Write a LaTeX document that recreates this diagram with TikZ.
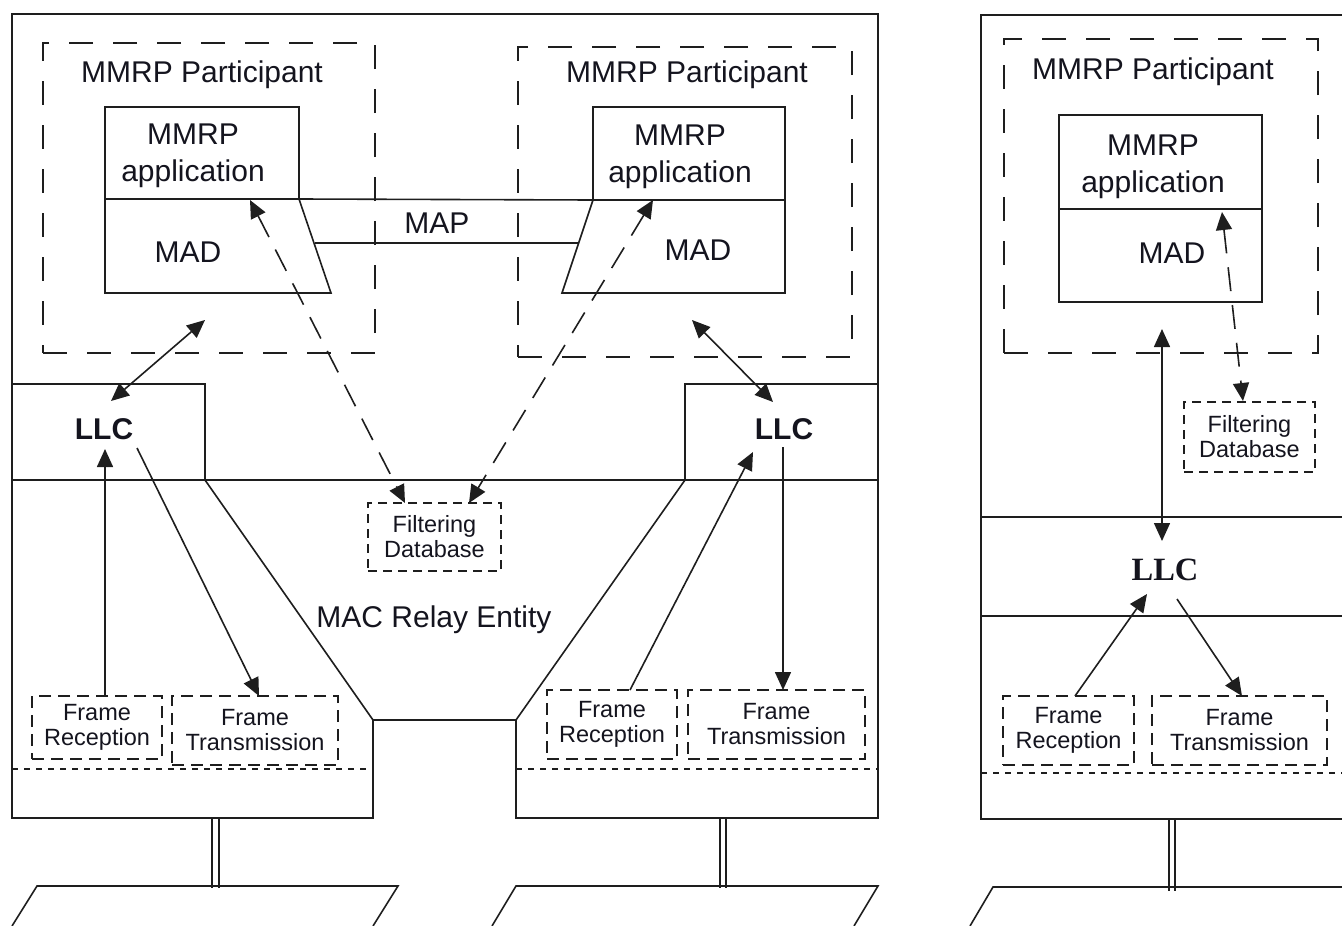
\documentclass[tikz,border=0pt]{standalone}
\usepackage{fontspec}
\setmainfont{Liberation Sans}
\newfontfamily\serifbold{Liberation Serif}
\usetikzlibrary{arrows.meta,calc}
\definecolor{ln}{RGB}{30,30,30}
\definecolor{tx}{RGB}{20,20,30}
\tikzset{
  lbl/.style={font=\fontsize{30}{37}\selectfont, text=tx, inner sep=0pt, align=center},
  llcl/.style={font=\fontsize{30}{36}\selectfont\bfseries, text=tx, inner sep=0pt},
  llcs/.style={font=\serifbold\fontsize{32.5}{36}\selectfont\bfseries, text=tx, inner sep=0pt},
  sm/.style={font=\fontsize{23.5}{25}\selectfont, text=tx, inner sep=0pt, align=center},
  part/.style={draw=ln, dash pattern=on 24pt off 20pt, inner sep=0pt, outer sep=0pt, anchor=north west},
  appbox/.style={draw=ln, inner sep=0pt, outer sep=0pt, anchor=north west},
  fbox/.style={draw=ln, sm, dash pattern=on 12pt off 7pt, outer sep=0pt},
  dbbox/.style={draw=ln, sm, dash pattern=on 9pt off 6pt, outer sep=0pt},
  tip/.tip={Triangle[length=18pt,width=16pt]},
  arr/.style={-tip},
  darr/.style={tip-tip},
  dasharr/.style={tip-tip, dash pattern=on 24pt off 14pt},
  dotl/.style={dash pattern=on 6pt off 6pt, line width=1.8pt},
}
\begin{document}
\begin{tikzpicture}[x=1pt,y=-1pt,line width=1.6pt,color=ln]
\useasboundingbox (0,0) rectangle (1342,926);

% ---------------- left bridge ----------------
\draw (12,14)--(878,14)--(878,818)--(516,818)--(516,720)--(373,720)--(373,818)--(12,818)--cycle;
\draw (12,480)--(878,480);
\draw (12,384)--(205,384)--(205,480)--(373,720);
\draw (878,384)--(685,384)--(685,480)--(516,720);
\draw[dotl] (12,769)--(373,769);
\draw[dotl] (516,769)--(878,769);
% cables and LANs
\draw (212,818)--(212,888);
\draw (219,818)--(219,888);
\draw (12,926)--(37,886)--(398,886)--(373,926);
\draw (720,818)--(720,888);
\draw (726,818)--(726,888);
\draw (492,926)--(516,886)--(878,886)--(854,926);

% participants
\node[part, minimum width=332pt, minimum height=310pt] (partL) at (43,43) {};
\node[part, minimum width=334pt, minimum height=310pt] (partR) at (518,47) {};
\node[lbl, anchor=base] (ppL) at (202,82) {MMRP Participant};
\node[lbl, anchor=base] (ppR) at (687,82) {MMRP Participant};

\node[appbox, minimum width=194pt, minimum height=92pt] (appL) at (105,107) {};
\node[appbox, minimum width=192pt, minimum height=93pt] (appR) at (593,107) {};
\draw (appL.south east)--(331,293)--(105,293)--(appL.south west);
\draw (appR.south west)--(562,293)--(785,293)--(appR.south east);
\node[lbl] (apL) at (193,156) {MMRP\\application};
\node[lbl] (apR) at (680,157) {MMRP\\application};
\node[lbl, anchor=base] (madL) at (188,262) {MAD};
\node[lbl, anchor=base] (madR) at (698,260) {MAD};

% MAP
\coordinate (mapA) at (315,243);
\coordinate (mapB) at (579,243);
\draw (appL.south east)--(appR.south west);
\draw (mapA)--(mapB);
\node[lbl, anchor=base] (map) at (437,233) {MAP};

% filtering database
\node[dbbox, minimum width=133pt, minimum height=68pt] (fdb) at (434.5,537) {Filtering\\Database};
\coordinate (dL1) at (250,200);
\coordinate (dL2) at (405,503);
\coordinate (dR1) at (653,200);
\coordinate (dR2) at (469,503);
\draw[dasharr] (dL1)--(dL2);
\draw[dasharr] (dR1)--(dR2);

\node[lbl, anchor=base] (relay) at (434,627) {MAC Relay Entity};

% LLC
\node[llcl, anchor=base] (llcL) at (104,439) {LLC};
\node[llcl, anchor=base] (llcR) at (784,439) {LLC};

% frames
\node[fbox, minimum width=130pt, minimum height=63pt] (frL) at (97,727.5) {Frame\\Reception};
\node[fbox, minimum width=166pt, minimum height=69pt] (ftL) at (255,730.5) {Frame\\Transmission};
\node[fbox, minimum width=130pt, minimum height=69pt] (frR) at (612,724.5) {Frame\\Reception};
\node[fbox, minimum width=177pt, minimum height=69pt] (ftR) at (776.5,724.5) {Frame\\Transmission};

% arrows left
\coordinate (aL1) at (205,320);
\coordinate (aL2) at (111,401);
\draw[darr] (aL1)--(aL2);
\coordinate (uL1) at (105,696);
\coordinate (uL2) at (105,449);
\draw[arr] (uL1)--(uL2);
\coordinate (tL1) at (137,448);
\coordinate (tL2) at (259,696);
\draw[arr] (tL1)--(tL2);
% arrows right
\coordinate (aR1) at (692,320);
\coordinate (aR2) at (773,402);
\draw[darr] (aR1)--(aR2);
\coordinate (uR1) at (630,690);
\coordinate (uR2) at (753,452);
\draw[arr] (uR1)--(uR2);
\coordinate (tR1) at (783,447);
\coordinate (tR2) at (783,690);
\draw[arr] (tR1)--(tR2);

% ---------------- right end station ----------------
\draw (1342,15)--(981,15)--(981,819)--(1342,819);
\draw (981,517)--(1342,517);
\draw (981,616)--(1342,616);
\draw[dotl] (981,773)--(1342,773);
\draw (1169,819)--(1169,891);
\draw (1175,819)--(1175,891);
\draw (970,926)--(993,887)--(1342,887);

\node[part, minimum width=314pt, minimum height=314pt] (partP) at (1004,39) {};
\node[lbl, anchor=base] (ppP) at (1153,79) {MMRP Participant};
\node[appbox, minimum width=203pt, minimum height=94pt] (appP) at (1059,115) {};
\draw (appP.south west)--(1059,302)--(1262,302)--(appP.south east);
\node[lbl] (apP) at (1153,167) {MMRP\\application};
\node[lbl, anchor=base] (madP) at (1172,263) {MAD};

\node[dbbox, minimum width=131pt, minimum height=70pt] (fdbP) at (1249.5,437) {Filtering\\Database};
\coordinate (dP1) at (1222,212);
\coordinate (dP2) at (1243,401);
\draw[dasharr] (dP1)--(dP2);

\node[llcs, anchor=base] (llcP) at (1165,580) {LLC};
\coordinate (vP1) at (1162,329);
\coordinate (vP2) at (1162,541);
\draw[darr] (vP1)--(vP2);

\node[fbox, minimum width=131pt, minimum height=69pt] (frP) at (1068.5,730.5) {Frame\\Reception};
\node[fbox, minimum width=175pt, minimum height=69pt] (ftP) at (1239.5,730.5) {Frame\\Transmission};
\coordinate (uP1) at (1075,696);
\coordinate (uP2) at (1147,594);
\draw[arr] (uP1)--(uP2);
\coordinate (tP1) at (1177,599);
\coordinate (tP2) at (1242,696);
\draw[arr] (tP1)--(tP2);
\end{tikzpicture}
\end{document}
